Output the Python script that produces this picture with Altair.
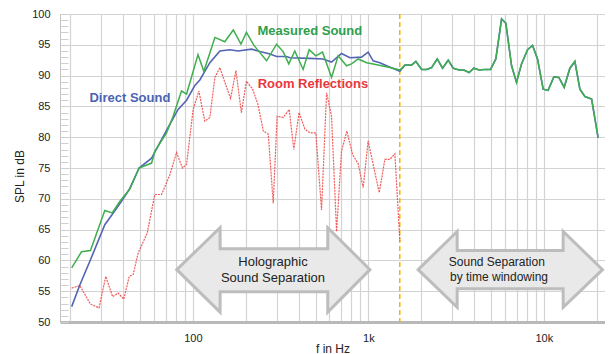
import altair as alt
import pandas as pd

# ---------------- data (frequency in Hz, level in dB) ----------------
meas_f = [20.4, 23.2, 26.1, 31.5, 34.7, 38.4, 43.8, 49.4, 58.2, 60.7,
          70.8, 77.2, 86.2, 92.1, 107, 115.5, 133.5, 152, 170, 188,
          202, 223, 263, 300, 327, 352, 381, 425, 460, 502,
          548, 617, 673, 751, 802, 875, 977, 1065, 1189, 1326, 1512]
meas_db = [58.8, 61.4, 61.6, 68.1, 67.7, 69.6, 71.6, 75.0, 75.8, 77.7,
           80.7, 83.4, 87.5, 87.0, 93.4, 90.7, 96.2, 95.5, 97.4, 95.1,
           97.0, 94.9, 92.4, 95.1, 93.9, 91.9, 94.0, 91.0, 94.2, 93.2,
           93.8, 89.7, 93.2, 91.6, 91.9, 92.7, 92.1, 91.9, 91.6, 91.3, 90.9]

direct_f = [20.4, 22.7, 26.1, 31.5, 35.2, 39.2, 43.4, 49.4, 58.2, 64.9,
            73.9, 82.4, 92.1, 102.7, 109.6, 125, 142.6, 162.5, 181, 216,
            241, 275, 300, 342, 357, 464, 552, 617, 703, 785,
            914, 997, 1065, 1163, 1270, 1512]
direct_db = [52.5, 56.0, 60.1, 65.8, 67.7, 69.6, 71.5, 75.0, 76.6, 79.1,
             82.1, 84.5, 86.0, 88.4, 89.3, 92.1, 94.0, 94.2, 94.0, 94.3,
             93.9, 93.5, 93.1, 93.1, 92.9, 92.8, 92.7, 92.2, 93.6, 92.9,
             93.0, 93.8, 92.4, 92.1, 91.6, 90.7]

# above 1.5 kHz measured and direct sound coincide
tail_f = [1614, 1762, 1865, 2011, 2146, 2293, 2467, 2648, 2851, 3044,
          3291, 3499, 3751, 3990, 4277, 4610, 4968, 5324, 5741, 6071,
          6546, 6985, 7460, 8075, 8620, 9200, 9910, 10570, 11400, 12170,
          13050, 14070, 15020, 16040, 17130, 18710, 20380]
tail_db = [91.7, 91.7, 92.3, 91.0, 91.0, 91.3, 92.7, 91.2, 92.5, 91.2,
           90.9, 90.9, 90.5, 91.2, 90.9, 91.0, 91.0, 92.7, 99.2, 98.5,
           91.6, 88.9, 91.9, 94.2, 94.9, 92.7, 87.8, 87.6, 89.8, 89.7,
           88.1, 91.2, 92.3, 87.8, 86.6, 86.2, 79.9]

refl_f = [20.4, 22.7, 26.1, 29.2, 31.9, 34.9, 37.5, 40.4, 43.4, 45.7,
          48.8, 54.9, 60.7, 66.4, 73.9, 80.7, 87.3, 92.1, 100.4, 108.2,
          117, 125, 133.5, 142.6, 152.2, 164, 176, 189, 202, 219,
          235, 252, 269, 287, 302, 327, 354, 376, 403, 435,
          464, 502, 541, 578, 617, 659, 703, 754, 813, 875,
          934, 997, 1065, 1153, 1242, 1326, 1416, 1512]
refl_db = [55.5, 55.9, 52.9, 52.3, 57.4, 54.1, 54.7, 53.7, 57.4, 57.7,
           61.2, 64.4, 70.7, 70.7, 73.9, 77.5, 75.0, 75.6, 84.5, 87.5,
           82.6, 83.2, 89.7, 91.3, 88.9, 86.3, 90.8, 84.0, 89.1, 87.8,
           85.3, 81.0, 80.5, 69.3, 83.4, 83.2, 84.5, 78.0, 84.0, 81.3,
           80.7, 80.7, 68.2, 87.2, 83.4, 64.7, 77.7, 81.0, 77.2, 75.7,
           71.8, 79.4, 75.6, 71.0, 76.4, 76.4, 77.3, 63.1]

split_f = [1510]

# double arrows (annotation shapes, in data units)
arrow1_f = [81, 142.9, 143.1, 586.9, 587.1, 1021]
arrow1_top = [58.5, 65.3, 61.9, 61.9, 65.3, 58.5]
arrow1_bot = [58.5, 51.6, 54.9, 54.9, 51.6, 58.5]
arrow2_f = [1923, 3205, 3207, 12870, 12890, 21580]
arrow2_top = [58.5, 64.7, 61.6, 61.6, 64.7, 58.5]
arrow2_bot = [58.5, 52.4, 55.4, 55.4, 52.4, 58.5]

series_labels = ["Measured Sound", "Room Reflections", "Direct Sound"]
series_label_f = [464, 483, 43.8]
series_label_db = [97.2, 88.6, 86.3]
series_label_col = ["#2f9e4c", "#e8383d", "#4a64b4"]

arrow_text = ["Holographic", "Sound Separation", "Sound Separation", "by time windowing"]
arrow_text_f = [286, 286, 5395, 5550]
arrow_text_db = [59.7, 57.1, 59.7, 57.3]
arrow_text_size = [13, 13, 12, 12]

grid_x = [20, 30, 40, 50, 60, 70, 80, 90, 100, 200, 300, 400, 500, 600, 700, 800, 900,
          1000, 2000, 3000, 4000, 5000, 6000, 7000, 8000, 9000, 10000, 20000]
y_ticks = list(range(50, 101, 5))
y_minor = list(range(50, 101))

FONT = "Liberation Sans"

# ---------------- tables ----------------
df_meas = pd.DataFrame({"f": meas_f + tail_f, "spl": meas_db + tail_db})
df_direct = pd.DataFrame({"f": direct_f + tail_f, "spl": direct_db + tail_db})
df_refl = pd.DataFrame({"f": refl_f, "spl": refl_db})
df_split = pd.DataFrame({"f": split_f})
df_arrows = pd.concat([
    pd.DataFrame({"f": arrow1_f, "top": arrow1_top, "bot": arrow1_bot, "id": "a"}),
    pd.DataFrame({"f": arrow2_f, "top": arrow2_top, "bot": arrow2_bot, "id": "b"}),
])
df_lab = pd.DataFrame({"f": series_label_f, "spl": series_label_db,
                       "label": series_labels, "col": series_label_col})
df_atext = pd.DataFrame({"f": arrow_text_f, "spl": arrow_text_db,
                         "label": arrow_text, "size": arrow_text_size})

# ---------------- scales / axes ----------------
xscale = alt.Scale(type="log", domain=[17.5, 22300], nice=False)
yscale = alt.Scale(domain=[50, 100], nice=False, zero=False)

x_axis = alt.Axis(
    values=grid_x,
    labelExpr="datum.value == 100 ? '100' : datum.value == 1000 ? '1k' : datum.value == 10000 ? '10k' : ''",
    grid=True, gridColor="#d3d3d3", gridWidth=1.2,
    domainColor="#b9b9b9", domainWidth=3, ticks=False,
    labelPadding=10, labelFontSize=11, labelColor="#222", labelFont=FONT,
    labelOverlap=False,
    title="f in Hz", titleFont=FONT, titleFontSize=12, titleFontWeight="normal",
    titleColor="#222", titleY=21,
)
y_axis = alt.Axis(
    values=y_ticks, grid=True, gridColor="#d3d3d3", gridWidth=1.2,
    domainColor="#c4c4c4", ticks=False,
    labelPadding=10, labelFontSize=11, labelColor="#222", labelFont=FONT,
    title="SPL in dB", titleFont=FONT, titleFontSize=12, titleFontWeight="normal",
    titleColor="#222", titleX=-34, titleY=162,
)
minor_axis = alt.Axis(
    values=y_minor, orient="left", offset=-8, tickSize=8, tickColor="#cfcfcf",
    tickWidth=1, labels=False, domain=False, grid=False, title="",
)


def X():
    return alt.X("f:Q", scale=xscale, axis=x_axis)


def Y(field):
    return alt.Y(f"{field}:Q", scale=yscale, axis=y_axis)


arrows = alt.Chart(df_arrows).mark_area(
    fill="#e9e9e9", stroke="#bdbdbd", strokeWidth=3, strokeJoin="miter"
).encode(x=X(), y=Y("top"), y2="bot:Q", detail="id:N")

split = alt.Chart(df_split).mark_rule(
    color="#f7b500", strokeDash=[5, 3], strokeWidth=1.5
).encode(x=X())

refl = alt.Chart(df_refl).mark_line(
    color="#f04848", strokeWidth=1.2, strokeDash=[2, 1], opacity=0.9
).encode(x=X(), y=Y("spl"))

direct = alt.Chart(df_direct).mark_line(
    color="#5464b4", strokeWidth=1.6
).encode(x=X(), y=Y("spl"))

meas = alt.Chart(df_meas).mark_line(
    color="#3fae4e", strokeWidth=1.5
).encode(x=X(), y=Y("spl"))

labels = alt.Chart(df_lab).mark_text(
    font=FONT, fontSize=13, fontWeight="bold"
).encode(x=X(), y=Y("spl"), text="label:N", color=alt.Color("col:N", scale=None))

atext = alt.Chart(df_atext).mark_text(
    font=FONT, color="#222"
).encode(x=X(), y=Y("spl"), text="label:N", size=alt.Size("size:Q", scale=None))

main = alt.layer(arrows, split, refl, direct, meas, labels, atext)

minor = alt.Chart(df_refl).mark_point(opacity=0).encode(
    x=X(), y=alt.Y("spl:Q", scale=yscale, axis=minor_axis)
)

chart = alt.layer(main, minor).resolve_axis(y="independent").properties(
    width=545, height=308,
    padding={"left": 52, "top": 6, "right": 0, "bottom": 32},
    autosize=alt.AutoSizeParams(type="none"),
).configure_view(stroke="#c8c8c8")

chart.save("out.html", embed_options={"renderer": "svg", "actions": False})
